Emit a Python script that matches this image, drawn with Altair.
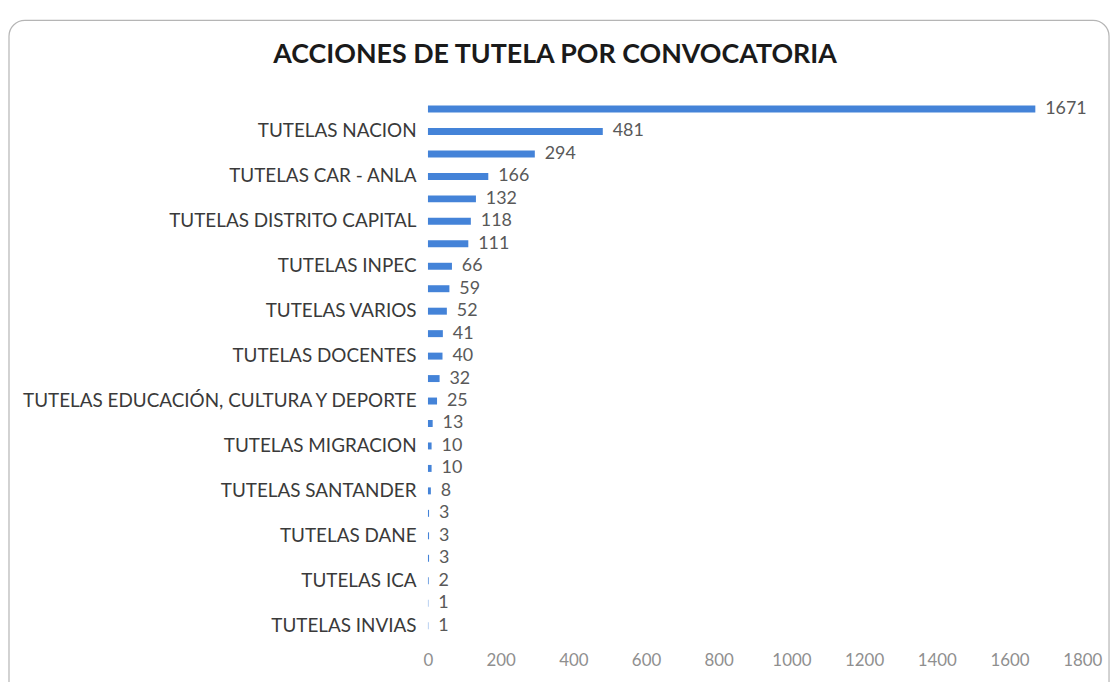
import json
import altair as alt
import pandas as pd

values = [1671, 481, 294, 166, 132, 118, 111, 66, 59, 52, 41, 40,
          32, 25, 13, 10, 10, 8, 3, 3, 3, 2, 1, 1]
# labels visible on every second bar (bars 2, 4, ..., 24)
shown_labels = ["TUTELAS NACION", "TUTELAS CAR - ANLA", "TUTELAS DISTRITO CAPITAL",
                "TUTELAS INPEC", "TUTELAS VARIOS", "TUTELAS DOCENTES",
                "TUTELAS EDUCACIÓN, CULTURA Y DEPORTE", "TUTELAS MIGRACION",
                "TUTELAS SANTANDER", "TUTELAS DANE", "TUTELAS ICA", "TUTELAS INVIAS"]
x_ticks = [0, 200, 400, 600, 800, 1000, 1200, 1400, 1600, 1800]
title = "ACCIONES DE TUTELA POR CONVOCATORIA"

labels_full = []
for i in range(len(values)):
    labels_full.append(shown_labels[i // 2] if i % 2 == 1 else "")

df = pd.DataFrame({"rank": list(range(len(values))), "value": values})
label_expr = json.dumps(labels_full) + "[datum.value]"

W, H = 659, 543
FONT = "Lato"

y_enc = alt.Y("rank:O", sort=None,
              scale=alt.Scale(paddingInner=0.69, paddingOuter=0.345),
              axis=alt.Axis(title=None, labelExpr=label_expr, domain=False, ticks=False,
                            labelPadding=12, labelFontSize=19, labelColor="#3a3a3a",
                            labelFont=FONT, labelLimit=600))
x_enc = alt.X("value:Q", scale=alt.Scale(domain=[0, 1800], nice=False),
              axis=alt.Axis(title=None, values=x_ticks, grid=False, domain=False, ticks=False,
                            format="d", labelFlush=False,
                            labelPadding=16, labelFontSize=17, labelColor="#8f8f8f",
                            labelFont=FONT))

frame = alt.Chart(pd.DataFrame({"f": [0]})).mark_rect(
    fill="transparent", stroke="#b5b5b5", strokeWidth=1.2, cornerRadius=16
).encode(x=alt.value(-422), x2=alt.value(686), y=alt.value(-78), y2=alt.value(620))

title_mark = alt.Chart(pd.DataFrame({"t": [title]})).mark_text(
    fontSize=27, font=FONT, fontWeight="bold", color="#1a1a1a", align="center",
    baseline="alphabetic"
).encode(x=alt.value(128), y=alt.value(-35), text="t:N")

bars = alt.Chart(df).mark_bar(color="#4483d8").encode(x=x_enc, y=y_enc)
texts = alt.Chart(df).mark_text(align="left", baseline="middle", dx=10, fontSize=18,
                                font=FONT, color="#595959").encode(
    x="value:Q", y=alt.Y("rank:O", sort=None), text="value:Q")

chart = alt.layer(frame, bars, texts, title_mark).properties(
    width=W, height=H,
    autosize=alt.AutoSizeParams(type="none"),
    padding={"left": 423, "top": 88, "right": 30, "bottom": 43},
).configure_view(stroke=None)

chart.save("out.html", embed_options={"renderer": "svg", "actions": False})
